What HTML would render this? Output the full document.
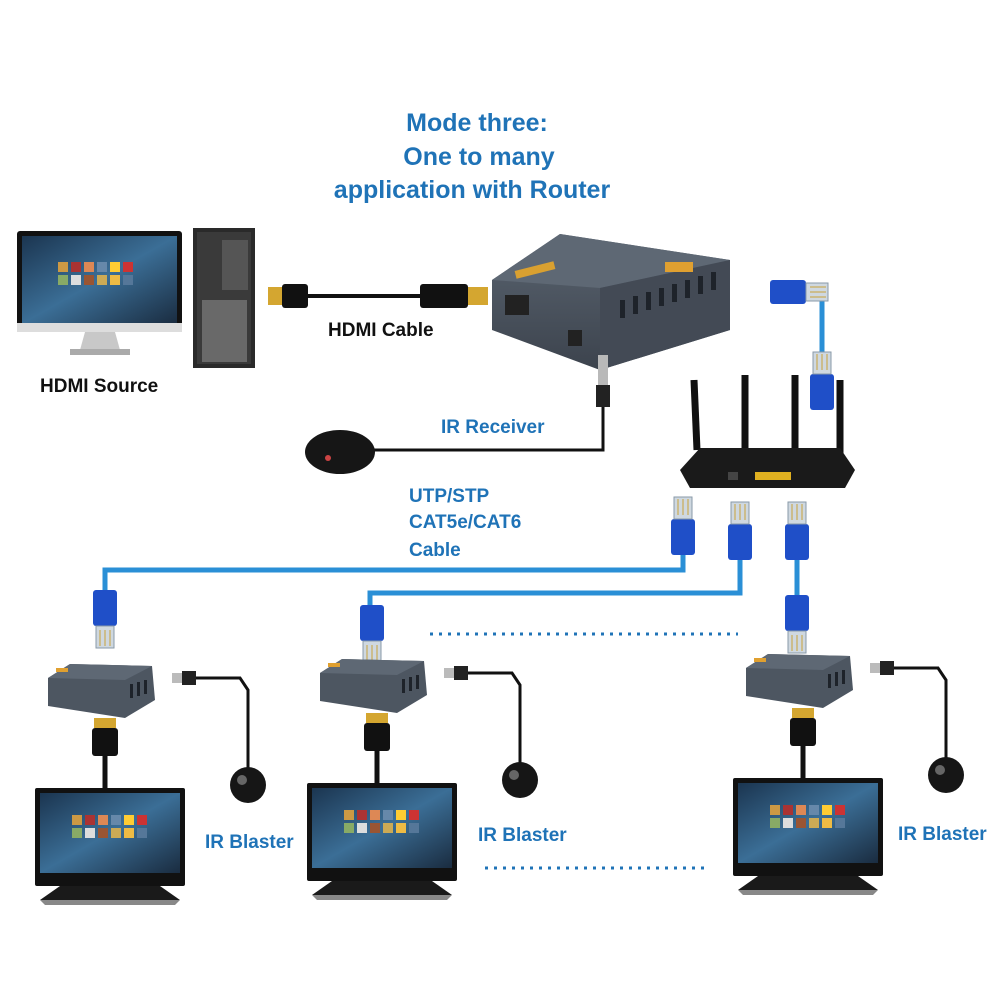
<!DOCTYPE html>
<html><head><meta charset="utf-8"><style>
body{margin:0;background:#fff;}
svg{display:block;}
text{font-family:"Liberation Sans",sans-serif;font-weight:bold;}
</style></head><body>
<svg width="1000" height="1000" viewBox="0 0 1000 1000" xmlns="http://www.w3.org/2000/svg">
<defs>
<linearGradient id="scr" x1="0" y1="0" x2="1" y2="1"><stop offset="0" stop-color="#1b3550"/><stop offset="0.5" stop-color="#3b6e96"/><stop offset="1" stop-color="#1a2c40"/></linearGradient>
<linearGradient id="box" x1="0" y1="0" x2="0" y2="1"><stop offset="0" stop-color="#5a6470"/><stop offset="1" stop-color="#3c434d"/></linearGradient>
<g id="tiles">
<rect x="0" y="0" width="10" height="10" fill="#c94"/><rect x="13" y="0" width="10" height="10" fill="#a33"/><rect x="26" y="0" width="10" height="10" fill="#d85"/><rect x="39" y="0" width="10" height="10" fill="#68a"/><rect x="52" y="0" width="10" height="10" fill="#fc3"/><rect x="65" y="0" width="10" height="10" fill="#c33"/>
<rect x="0" y="13" width="10" height="10" fill="#8a6"/><rect x="13" y="13" width="10" height="10" fill="#ddd"/><rect x="26" y="13" width="10" height="10" fill="#953"/><rect x="39" y="13" width="10" height="10" fill="#ca5"/><rect x="52" y="13" width="10" height="10" fill="#eb4"/><rect x="65" y="13" width="10" height="10" fill="#579"/>
</g>
<g id="rj">
<rect x="-12" y="0" width="24" height="36" rx="3" fill="#1f4fc8"/>
<rect x="-9" y="36" width="18" height="22" fill="#cfd8e0" stroke="#8a9aa8"/>
<line x1="-5" y1="40" x2="-5" y2="56" stroke="#c9a23a"/><line x1="0" y1="40" x2="0" y2="56" stroke="#c9a23a"/><line x1="5" y1="40" x2="5" y2="56" stroke="#c9a23a"/>
</g>
</defs>

<text x="477" y="131" font-size="25" fill="#1f73b7" text-anchor="middle">Mode three:</text>
<text x="479" y="165" font-size="25" fill="#1f73b7" text-anchor="middle">One to many</text>
<text x="472" y="198" font-size="25" fill="#1f73b7" text-anchor="middle">application with Router</text>

<rect x="17" y="231" width="165" height="100" rx="3" fill="#111"/>
<rect x="22" y="236" width="155" height="88" fill="url(#scr)"/>
<use href="#tiles" x="58" y="262"/>
<rect x="17" y="323" width="165" height="9" fill="#ddd"/>
<polygon points="85,332 115,332 120,350 80,350" fill="#c8c8c8"/>
<rect x="70" y="349" width="60" height="6" fill="#aaa"/>
<text x="40" y="392" font-size="19" fill="#111">HDMI Source</text>

<rect x="193" y="228" width="62" height="140" fill="#2a2a2a"/>
<rect x="197" y="232" width="54" height="132" fill="#3a3a3a"/>
<rect x="222" y="240" width="26" height="50" fill="#555"/>
<rect x="202" y="300" width="45" height="62" fill="#888" opacity="0.6"/>

<line x1="300" y1="296" x2="430" y2="296" stroke="#111" stroke-width="4"/>
<rect x="268" y="287" width="14" height="18" fill="#d4a630"/>
<rect x="282" y="284" width="26" height="24" rx="3" fill="#111"/>
<rect x="420" y="284" width="48" height="24" rx="3" fill="#111"/>
<rect x="468" y="287" width="20" height="18" fill="#d4a630"/>
<text x="328" y="336" font-size="19" fill="#111">HDMI Cable</text>

<polygon points="492,280 560,234 730,260 730,330 600,370 492,330" fill="url(#box)"/>
<polygon points="492,280 560,234 730,260 600,288" fill="#5e6874"/>
<polygon points="600,288 730,260 730,330 600,370" fill="#434a55"/>
<rect x="505" y="295" width="24" height="20" fill="#222"/>
<rect x="515" y="266" width="40" height="8" fill="#d9a030" transform="rotate(-14 535 270)"/>
<rect x="665" y="262" width="28" height="10" fill="#e0a030"/>
<g fill="#1e232a"><rect x="620" y="300" width="5" height="18"/><rect x="633" y="296" width="5" height="18"/><rect x="646" y="292" width="5" height="18"/><rect x="659" y="288" width="5" height="18"/><rect x="672" y="284" width="5" height="18"/><rect x="685" y="280" width="5" height="18"/><rect x="698" y="276" width="5" height="18"/><rect x="711" y="272" width="5" height="18"/></g>
<rect x="568" y="330" width="14" height="16" fill="#222"/>

<polyline points="800,292 822,292 822,360" fill="none" stroke="#2a8fd6" stroke-width="5"/>
<g transform="translate(770,292) rotate(-90)"><use href="#rj"/></g>
<g transform="translate(822,410) rotate(180)"><use href="#rj"/></g>

<line x1="697" y1="450" x2="694" y2="380" stroke="#111" stroke-width="7"/>
<line x1="745" y1="450" x2="745" y2="375" stroke="#111" stroke-width="7"/>
<line x1="795" y1="450" x2="795" y2="375" stroke="#111" stroke-width="7"/>
<line x1="840" y1="455" x2="840" y2="380" stroke="#111" stroke-width="7"/>
<polygon points="680,470 700,448 840,448 855,470 845,488 690,488" fill="#1a1a1a"/>
<rect x="755" y="472" width="36" height="8" fill="#e0b020"/>
<rect x="728" y="472" width="10" height="8" fill="#444"/>

<polyline points="603,380 603,450 372,450" fill="none" stroke="#111" stroke-width="3"/>
<rect x="598" y="355" width="10" height="30" fill="#b9b9b9"/>
<rect x="596" y="385" width="14" height="22" fill="#222"/>
<ellipse cx="340" cy="452" rx="35" ry="22" fill="#161616"/>
<circle cx="328" cy="458" r="3" fill="#c44"/>
<text x="441" y="433" font-size="19" fill="#1f73b7">IR Receiver</text>

<text x="409" y="502" font-size="19" fill="#1f73b7">UTP/STP</text>
<text x="409" y="528" font-size="19" fill="#1f73b7">CAT5e/CAT6</text>
<text x="409" y="556" font-size="19" fill="#1f73b7">Cable</text>

<polyline points="683,550 683,570 105,570 105,600" fill="none" stroke="#2a8fd6" stroke-width="5"/>
<polyline points="740,555 740,593 370,593 370,610" fill="none" stroke="#2a8fd6" stroke-width="5"/>
<polyline points="797,555 797,600" fill="none" stroke="#2a8fd6" stroke-width="5"/>
<g transform="translate(683,555) rotate(180)"><use href="#rj"/></g>
<g transform="translate(740,560) rotate(180)"><use href="#rj"/></g>
<g transform="translate(797,560) rotate(180)"><use href="#rj"/></g>
<g transform="translate(105,590)"><use href="#rj"/></g>
<g transform="translate(372,605)"><use href="#rj"/></g>
<g transform="translate(797,595)"><use href="#rj"/></g>
<line x1="430" y1="634" x2="738" y2="634" stroke="#1f73b7" stroke-width="3" stroke-dasharray="3,6"/>

<g id="rx">
<polygon points="48,678 70,664 152,666 155,700 125,718 48,706" fill="#4d5661"/>
<polygon points="48,678 70,664 152,666 125,680" fill="#5e6874"/>
<rect x="56" y="668" width="12" height="4" fill="#e0a030"/>
<g fill="#1e232a"><rect x="130" y="684" width="3" height="14"/><rect x="137" y="682" width="3" height="14"/><rect x="144" y="680" width="3" height="14"/></g>
<polyline points="190,678 240,678 248,690 248,770" fill="none" stroke="#111" stroke-width="3"/>
<rect x="172" y="673" width="10" height="10" fill="#bbb"/><rect x="182" y="671" width="14" height="14" fill="#222"/>
<circle cx="248" cy="785" r="18" fill="#161616"/><circle cx="242" cy="780" r="5" fill="#666"/>
<rect x="94" y="718" width="22" height="10" fill="#d4a630"/>
<rect x="92" y="728" width="26" height="28" rx="3" fill="#111"/>
<line x1="105" y1="756" x2="105" y2="790" stroke="#111" stroke-width="5"/>
<rect x="35" y="788" width="150" height="98" rx="2" fill="#111"/>
<rect x="40" y="793" width="140" height="80" fill="url(#scr)"/>
<use href="#tiles" x="72" y="815"/>
<polygon points="60,886 160,886 180,900 40,900" fill="#1a1a1a"/>
<polygon points="40,900 180,900 175,905 45,905" fill="#888"/>
</g>
<use href="#rx" x="272" y="-5"/>
<use href="#rx" x="698" y="-10"/>
<text x="205" y="848" font-size="19" fill="#1f73b7">IR Blaster</text>
<text x="478" y="841" font-size="19" fill="#1f73b7">IR Blaster</text>
<text x="898" y="840" font-size="19" fill="#1f73b7">IR Blaster</text>
<line x1="485" y1="868" x2="710" y2="868" stroke="#1f73b7" stroke-width="3" stroke-dasharray="3,6"/>
</svg>
</body></html>
